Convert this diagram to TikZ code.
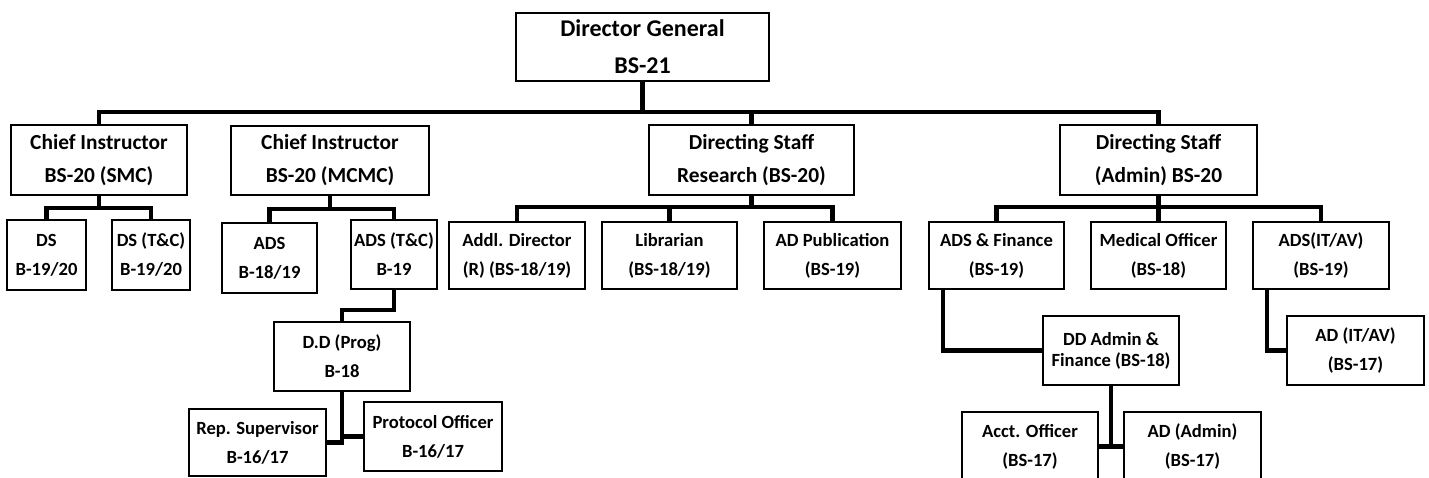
\documentclass[tikz,border=0pt]{standalone}
\usepackage{fontspec}
\setmainfont{Carlito}
\usetikzlibrary{positioning}
\tikzset{
  every picture/.style={line join=miter},
  post/.style={draw, line width=1.3pt, align=center, inner sep=0pt, minimum height=34.5pt,
    font=\bfseries\fontsize{9.3}{14.5}\selectfont},
  head/.style={post, font=\bfseries\fontsize{10.7}{16.5}\selectfont},
  link/.style={line width=2.4pt},
}

\begin{document}
\begin{tikzpicture}[x=0.5pt, y=-0.5pt]
  \clip (0,0) rectangle (1429,477);
  \fill[white] (0,0) rectangle (1429,477);
  % top
  \node[head, minimum width=126.5pt, minimum height=34pt, font=\bfseries\fontsize{12}{18.5}\selectfont] (dg) at (642.5,47) {Director General\\BS-21};
  \node[head, minimum width=88pt, minimum height=35pt] (smc) at (99,160) {Chief Instructor\\BS-20 (SMC)};
  \node[head, minimum width=99pt] (mcmc) at (330,160.5) {Chief Instructor\\BS-20 (MCMC)};
  \node[head, minimum width=102.5pt, minimum height=35pt] (res) at (751.5,160) {Directing Staff\\Research (BS-20)};
  \node[head, minimum width=98.5pt, minimum height=35pt] (adm) at (1158.5,160) {Directing Staff\\(Admin) BS-20};
  \coordinate (bus) at (642.5,112);
  \draw[link] (dg) -- (bus);
  \draw[link] (bus) -| (smc);
  \draw[link] (bus) -| (res);
  \draw[link] (bus) -| (adm);
  % SMC
  \node[post, minimum width=39.5pt, minimum height=35pt] (ds) at (46.5,255) {DS\\B-19/20};
  \node[post, minimum width=39pt, minimum height=35pt] (dstc) at (151,255) {DS (T\&C)\\B-19/20};
  \coordinate (smcj) at (99,208);
  \draw[link] (smc) -- (smcj);
  \draw[link] (smcj) -| (ds);
  \draw[link] (smcj) -| (dstc);
  % MCMC
  \node[post, minimum width=47.5pt, minimum height=35pt] (ads) at (269.5,258) {ADS\\B-18/19};
  \node[post, minimum width=43pt] (adstc) at (394,254.5) {ADS (T\&C)\\B-19};
  \coordinate (mcmcj) at (330,209);
  \draw[link] (mcmc) -- (mcmcj);
  \draw[link] (mcmcj) -| (ads);
  \draw[link] (mcmcj) -| (adstc);
  \node[post, minimum width=68pt] (dd) at (342,356.5) {D.D (Prog)\\B-18};
  \coordinate (adstcj) at (394,310);
  \draw[link] (adstc) -- (adstcj) -| (dd);
  \node[post, minimum width=68.5pt, minimum height=33.5pt] (rep) at (257.5,442.5) {Rep. Supervisor\\B-16/17};
  \node[post, minimum width=69pt] (prot) at (433,436.5) {Protocol Officer\\B-16/17};
  \draw[link] (dd) |- (rep);
  \draw[link] (dd) |- (prot);
  % research
  \node[post, minimum width=68pt, minimum height=33.5pt] (addl) at (517,255.5) {Addl. Director\\(R) (BS-18/19)};
  \node[post, minimum width=67.5pt, minimum height=33.5pt] (lib) at (669.5,255.5) {Librarian\\(BS-18/19)};
  \node[post, minimum width=68.5pt, minimum height=33.5pt] (adpub) at (832.5,255.5) {AD Publication\\(BS-19)};
  \coordinate (resj) at (751.5,207);
  \draw[link] (res) -- (resj);
  \draw[link] (resj) -| (addl);
  \draw[link] (resj) -| (lib);
  \draw[link] (resj) -| (adpub);
  % admin
  \node[post, minimum width=67.5pt, minimum height=33.5pt] (adsf) at (996.5,255.5) {ADS \& Finance\\(BS-19)};
  \node[post, minimum width=67.5pt, minimum height=33.5pt] (med) at (1158.5,255.5) {Medical Officer\\(BS-18)};
  \node[post, minimum width=68pt, minimum height=33.5pt] (adsit) at (1321,255.5) {ADS(IT/AV)\\(BS-19)};
  \coordinate (admj) at (1158.5,207);
  \draw[link] (adm) -- (admj);
  \draw[link] (admj) -| (adsf);
  \draw[link] (admj) -| (med);
  \draw[link] (admj) -| (adsit);
  \node[post, minimum width=68pt, font=\bfseries\fontsize{9.3}{10.5}\selectfont] (ddadm) at (1111,350.5) {DD Admin \&\\Finance (BS-18)};
  \node[post, minimum width=68.5pt] (aditav) at (1355.5,350.5) {AD (IT/AV)\\(BS-17)};
  \coordinate (adsfj) at (943,350.5);
  \draw[link] (adsfj |- adsf.south) -- (adsfj) -- (ddadm);
  \coordinate (adsitj) at (1267,350.5);
  \draw[link] (adsitj |- adsit.south) -- (adsitj) -- (aditav);
  \node[post, minimum width=68pt] (acct) at (1030,446.5) {Acct. Officer\\(BS-17)};
  \node[post, minimum width=68.5pt] (adadmin) at (1192.5,446.5) {AD (Admin)\\(BS-17)};
  \draw[link] (ddadm) |- (acct);
  \draw[link] (ddadm) |- (adadmin);
\end{tikzpicture}
\end{document}
